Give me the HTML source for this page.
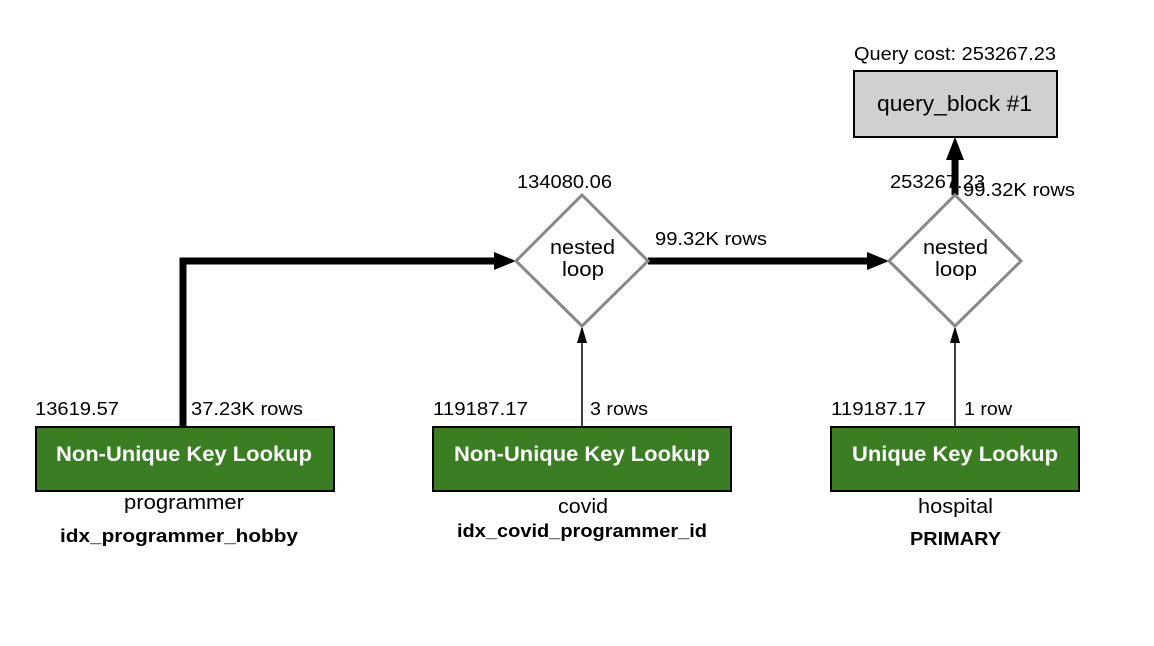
<!DOCTYPE html>
<html><head><style>body{margin:0;background:#fff}svg{display:block}</style></head><body>
<svg width="1154" height="646" xmlns="http://www.w3.org/2000/svg" font-family="Liberation Sans, sans-serif">
<rect x="854" y="71" width="203" height="66" fill="#d0d0d0" stroke="#000" stroke-width="2"/>
<text x="877" y="111" font-size="22" textLength="155" lengthAdjust="spacingAndGlyphs">query_block #1</text>
<text x="854" y="60" font-size="18" textLength="202" lengthAdjust="spacingAndGlyphs">Query cost: 253267.23</text>
<polyline points="183,427 183,261 500,261" fill="none" stroke="#000" stroke-width="7"/>
<polygon points="516,261 494,252 494,270" fill="#000"/>
<line x1="648" y1="261" x2="872" y2="261" stroke="#000" stroke-width="7"/>
<polygon points="889,261 867,252 867,270" fill="#000"/>
<line x1="955" y1="195" x2="955" y2="155" stroke="#000" stroke-width="7"/>
<polygon points="955,137 946,160 964,160" fill="#000"/>
<line x1="582" y1="427" x2="582" y2="340" stroke="#000" stroke-width="1.5"/>
<polygon points="582,326 577,343 587,343" fill="#000"/>
<line x1="955" y1="427" x2="955" y2="340" stroke="#000" stroke-width="1.5"/>
<polygon points="955,326 950,343 960,343" fill="#000"/>
<polygon points="582,195 648,261 582,326 516,261" fill="#fff" stroke="#888" stroke-width="3"/>
<polygon points="955,195 1021,261 955,326 889,261" fill="#fff" stroke="#888" stroke-width="3"/>
<g font-size="20">
<text x="550" y="254" textLength="65" lengthAdjust="spacingAndGlyphs">nested</text>
<text x="562" y="276" textLength="42" lengthAdjust="spacingAndGlyphs">loop</text>
<text x="923" y="254" textLength="65" lengthAdjust="spacingAndGlyphs">nested</text>
<text x="935" y="276" textLength="42" lengthAdjust="spacingAndGlyphs">loop</text>
</g>
<g font-size="18">
<text x="517" y="188" textLength="95" lengthAdjust="spacingAndGlyphs">134080.06</text>
<text x="655" y="245" textLength="112" lengthAdjust="spacingAndGlyphs">99.32K rows</text>
<text x="890" y="188" textLength="95" lengthAdjust="spacingAndGlyphs">253267.23</text>
<text x="963" y="196" textLength="112" lengthAdjust="spacingAndGlyphs">99.32K rows</text>
<text x="35" y="415" textLength="84" lengthAdjust="spacingAndGlyphs">13619.57</text>
<text x="191" y="415" textLength="112" lengthAdjust="spacingAndGlyphs">37.23K rows</text>
<text x="433" y="415" textLength="95" lengthAdjust="spacingAndGlyphs">119187.17</text>
<text x="590" y="415" textLength="58" lengthAdjust="spacingAndGlyphs">3 rows</text>
<text x="831" y="415" textLength="95" lengthAdjust="spacingAndGlyphs">119187.17</text>
<text x="964" y="415" textLength="48" lengthAdjust="spacingAndGlyphs">1 row</text>
</g>
<rect x="36" y="427" width="298" height="64" fill="#3a7d22" stroke="#000" stroke-width="2"/>
<rect x="433" y="427" width="298" height="64" fill="#3a7d22" stroke="#000" stroke-width="2"/>
<rect x="831" y="427" width="248" height="64" fill="#3a7d22" stroke="#000" stroke-width="2"/>
<g font-size="21" font-weight="bold" fill="#fff">
<text x="56" y="461" textLength="256" lengthAdjust="spacingAndGlyphs">Non-Unique Key Lookup</text>
<text x="454" y="461" textLength="256" lengthAdjust="spacingAndGlyphs">Non-Unique Key Lookup</text>
<text x="852" y="461" textLength="206" lengthAdjust="spacingAndGlyphs">Unique Key Lookup</text>
</g>
<g font-size="20">
<text x="124" y="509" textLength="120" lengthAdjust="spacingAndGlyphs">programmer</text>
<text x="558" y="513" textLength="50" lengthAdjust="spacingAndGlyphs">covid</text>
<text x="918" y="513" textLength="75" lengthAdjust="spacingAndGlyphs">hospital</text>
</g>
<g font-size="18" font-weight="bold">
<text x="60" y="542" textLength="238" lengthAdjust="spacingAndGlyphs">idx_programmer_hobby</text>
<text x="457" y="537" textLength="250" lengthAdjust="spacingAndGlyphs">idx_covid_programmer_id</text>
<text x="910" y="545" textLength="91" lengthAdjust="spacingAndGlyphs">PRIMARY</text>
</g>
</svg>
</body></html>
